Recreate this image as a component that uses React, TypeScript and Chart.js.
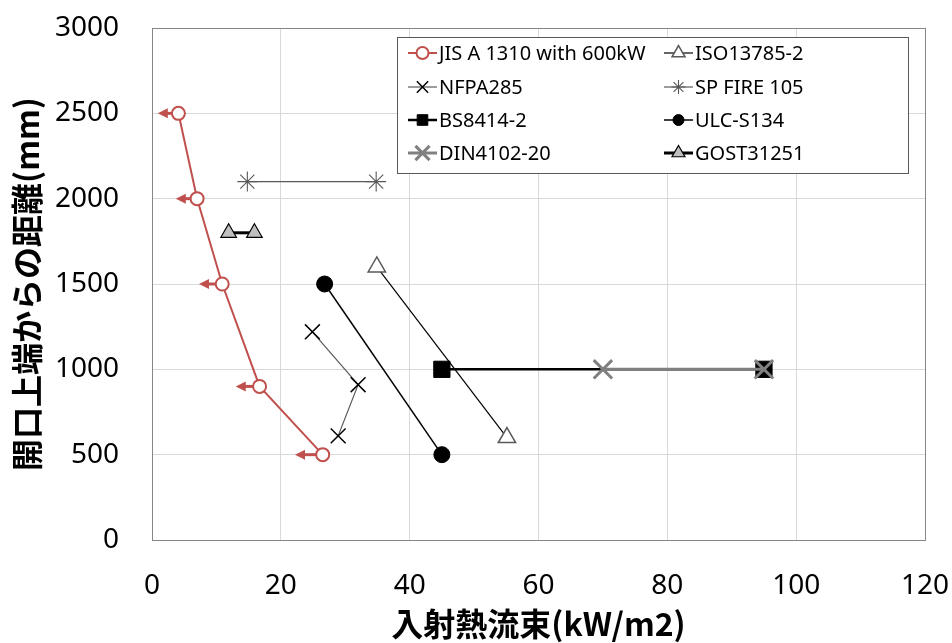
import React, { useEffect, useRef } from 'react';
import { Chart, registerables } from 'chart.js';
import { drawPoint } from 'chart.js/helpers';

Chart.register(...registerables);

// ---- axis ranges / ticks ----
const X_MIN = 0;
const X_MAX = 120;
const X_STEP = 20;
const Y_MIN = 0;
const Y_MAX = 3000;
const Y_STEP = 500;

const X_TITLE = '入射熱流束(kW/m2)';
const Y_TITLE = '開口上端からの距離(mm)';

// ---- series ----
const JIS_X = [4.1, 7.0, 10.9, 16.7, 26.5];
const JIS_Y = [2500, 2000, 1500, 900, 500];
const JIS_ARROW_TIP_X = [0.9, 3.7, 7.3, 13.0, 22.2];

const ISO_X = [34.9, 55.1];
const ISO_Y = [1600, 600];

const NFPA_X = [24.9, 32.0, 28.9];
const NFPA_Y = [1220, 910, 610];

const SP_X = [14.8, 34.8];
const SP_Y = [2100, 2100];

const BS_X = [45, 95];
const BS_Y = [1000, 1000];

const ULC_X = [26.8, 45];
const ULC_Y = [1500, 500];

const DIN_X = [70, 95];
const DIN_Y = [1000, 1000];

const GOST_X = [11.9, 15.9];
const GOST_Y = [1800, 1800];

const LABELS = [
  'JIS A 1310 with 600kW',
  'ISO13785-2',
  'NFPA285',
  'SP FIRE 105',
  'BS8414-2',
  'ULC-S134',
  'DIN4102-20',
  'GOST31251',
];

const pts = (xs: number[], ys: number[]) => xs.map((x, i) => ({ x, y: ys[i] }));

const RED = '#c0504d';

const arrowPlugin = {
  id: 'jisArrows',
  beforeDatasetsDraw(chart: any) {
    const { ctx } = chart;
    const xs = chart.scales.x;
    const ys = chart.scales.y;
    ctx.save();
    ctx.strokeStyle = RED;
    ctx.fillStyle = RED;
    ctx.lineWidth = 3;
    JIS_X.forEach((x, i) => {
      const px = xs.getPixelForValue(x);
      const py = ys.getPixelForValue(JIS_Y[i]);
      const tip = xs.getPixelForValue(JIS_ARROW_TIP_X[i]);
      ctx.beginPath();
      ctx.moveTo(px, py);
      ctx.lineTo(tip + 8, py);
      ctx.stroke();
      ctx.beginPath();
      ctx.moveTo(tip, py);
      ctx.lineTo(tip + 10, py - 5);
      ctx.lineTo(tip + 10, py + 5);
      ctx.closePath();
      ctx.fill();
    });
    ctx.restore();
  },
};

const borderPlugin = {
  id: 'plotBorder',
  beforeDatasetsDraw(chart: any) {
    const { ctx, chartArea: a } = chart;
    ctx.save();
    ctx.strokeStyle = '#868686';
    ctx.lineWidth = 1;
    ctx.strokeRect(Math.round(a.left) + 0.5, Math.round(a.top) + 0.5, Math.round(a.right - a.left), Math.round(a.bottom - a.top));
    ctx.restore();
  },
};

const legendPlugin = {
  id: 'boxLegend',
  afterDraw(chart: any) {
    const { ctx } = chart;
    const bx = 397.5, by = 37.5, bw = 511, bh = 136;
    ctx.save();
    ctx.fillStyle = '#ffffff';
    ctx.fillRect(bx, by, bw, bh);
    ctx.strokeStyle = '#595959';
    ctx.lineWidth = 1;
    ctx.strokeRect(bx, by, bw, bh);
    const colX = [408, 664];
    const rowY = [53, 87, 120, 153];
    chart.data.datasets.forEach((ds: any, i: number) => {
      const x0 = colX[i % 2];
      const y = rowY[Math.floor(i / 2)];
      ctx.strokeStyle = ds.borderColor;
      ctx.lineWidth = ds.borderWidth;
      ctx.beginPath();
      ctx.moveTo(x0, y);
      ctx.lineTo(x0 + 29, y);
      ctx.stroke();
      ctx.fillStyle = ds.pointBackgroundColor;
      ctx.strokeStyle = ds.pointBorderColor;
      ctx.lineWidth = ds.pointBorderWidth;
      drawPoint(ctx, { pointStyle: ds.pointStyle, radius: ds.legendRadius, rotation: 0, borderWidth: ds.pointBorderWidth }, x0 + 14.5, y);
      ctx.fillStyle = '#000000';
      ctx.font = '20px "Noto Sans"';
      ctx.textBaseline = 'middle';
      ctx.textAlign = 'left';
      ctx.fillText(ds.label, x0 + 31, y + 1);
    });
    ctx.restore();
  },
};

const zeroPad = (s: any) => {
  s.paddingTop = 0;
  s.paddingBottom = 0;
  s.paddingLeft = 0;
  s.paddingRight = 0;
};

export default function App() {
  const ref = useRef<HTMLCanvasElement | null>(null);

  useEffect(() => {
    if (!ref.current) return;
    const datasets: any[] = [
      {
        label: LABELS[0], data: pts(JIS_X, JIS_Y), showLine: true,
        borderColor: RED, borderWidth: 2,
        pointStyle: 'circle', pointRadius: 6.5, pointBackgroundColor: '#ffffff', pointBorderColor: RED, pointBorderWidth: 2,
        legendRadius: 6,
      },
      {
        label: LABELS[1], data: pts(ISO_X, ISO_Y), showLine: true,
        borderColor: '#000000', borderWidth: 1.2,
        pointStyle: 'triangle', pointRadius: 10, pointBackgroundColor: '#ffffff', pointBorderColor: '#595959', pointBorderWidth: 1.5,
        legendRadius: 7.5,
      },
      {
        label: LABELS[2], data: pts(NFPA_X, NFPA_Y), showLine: true,
        borderColor: '#595959', borderWidth: 1.2,
        pointStyle: 'crossRot', pointRadius: 10.5, pointBackgroundColor: '#000000', pointBorderColor: '#000000', pointBorderWidth: 1.5,
        legendRadius: 8,
      },
      {
        label: LABELS[3], data: pts(SP_X, SP_Y), showLine: true,
        borderColor: '#595959', borderWidth: 1.2,
        pointStyle: 'star', pointRadius: 10, pointBackgroundColor: '#595959', pointBorderColor: '#595959', pointBorderWidth: 1.1,
        legendRadius: 7,
      },
      {
        label: LABELS[4], data: pts(BS_X, BS_Y), showLine: true,
        borderColor: '#000000', borderWidth: 2.5,
        pointStyle: 'rect', pointRadius: 11.5, pointBackgroundColor: '#000000', pointBorderColor: '#000000', pointBorderWidth: 1,
        legendRadius: 7.5,
      },
      {
        label: LABELS[5], data: pts(ULC_X, ULC_Y), showLine: true,
        borderColor: '#000000', borderWidth: 1.5,
        pointStyle: 'circle', pointRadius: 8, pointBackgroundColor: '#000000', pointBorderColor: '#000000', pointBorderWidth: 1,
        legendRadius: 5.5,
      },
      {
        label: LABELS[6], data: pts(DIN_X, DIN_Y), showLine: true, order: -1,
        borderColor: '#808080', borderWidth: 3,
        pointStyle: 'crossRot', pointRadius: 13, pointBackgroundColor: '#808080', pointBorderColor: '#808080', pointBorderWidth: 3,
        legendRadius: 10,
      },
      {
        label: LABELS[7], data: pts(GOST_X, GOST_Y), showLine: true,
        borderColor: '#000000', borderWidth: 3,
        pointStyle: 'triangle', pointRadius: 9, pointBackgroundColor: '#bfbfbf', pointBorderColor: '#000000', pointBorderWidth: 1.2,
        legendRadius: 7.5,
      },
    ];

    const chart = new Chart(ref.current, {
      type: 'scatter',
      data: { datasets },
      options: {
        responsive: false,
        animation: false,
        layout: { padding: { top: 28, right: 27, left: 0, bottom: 0 } },
        plugins: { legend: { display: false }, tooltip: { enabled: false } },
        scales: {
          x: {
            type: 'linear', min: X_MIN, max: X_MAX,
            ticks: { stepSize: X_STEP, padding: 29, color: '#000000', font: { family: '"Noto Sans"', size: 28 }, callback: (v: any) => String(v) },
            grid: { color: '#d9d9d9', drawTicks: false },
            border: { color: '#868686' },
            title: { display: true, text: X_TITLE, color: '#000000', padding: 0, font: { family: '"Noto Sans CJK JP"', size: 32, weight: 'bold' } },
            afterFit: (s: any) => { s.height = 103; zeroPad(s); },
          },
          y: {
            type: 'linear', min: Y_MIN, max: Y_MAX,
            ticks: { stepSize: Y_STEP, padding: 33, color: '#000000', font: { family: '"Noto Sans"', size: 28 }, callback: (v: any) => String(v) },
            grid: { color: '#d9d9d9', drawTicks: false },
            border: { color: '#868686' },
            title: { display: true, text: Y_TITLE, color: '#000000', padding: { top: 8, bottom: 0 }, font: { family: '"Noto Sans CJK JP"', size: 32, weight: 'bold' } },
            afterFit: (s: any) => { s.width = 152; zeroPad(s); },
          },
        },
      } as any,
      plugins: [borderPlugin, arrowPlugin, legendPlugin],
    });
    return () => chart.destroy();
  }, []);

  return (
    <div style={{ position: 'fixed', left: 0, top: 0, width: 952, height: 643, background: '#ffffff' }}>
      <canvas ref={ref} width={952} height={643} style={{ width: 952, height: 643, display: 'block' }} />
    </div>
  );
}
